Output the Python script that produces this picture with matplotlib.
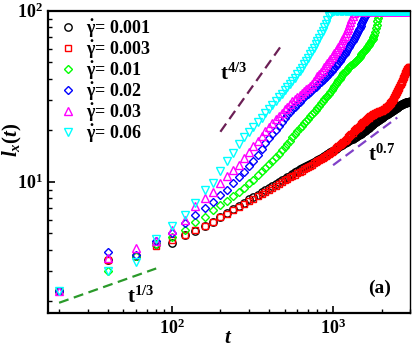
import matplotlib
matplotlib.use("Agg")
import matplotlib.pyplot as plt
import numpy as np

plt.rcParams['font.family'] = ['Liberation Serif', 'DejaVu Serif']
plt.rcParams['font.weight'] = 'bold'
plt.rcParams['mathtext.fontset'] = 'custom'
plt.rcParams['mathtext.rm'] = 'Liberation Serif:bold'
plt.rcParams['mathtext.it'] = 'Liberation Serif:italic:bold'
plt.rcParams['mathtext.bf'] = 'Liberation Serif:bold'

t = list(range(20, 3001, 20))

black = [2.3, 3.5, 3.7, 4.3, 4.4, 4.85, 5.15, 5.5, 5.85, 6.2,
         6.55, 6.9, 7.2, 7.55, 7.9, 8.15, 8.4, 8.7, 8.95, 9.2,
         9.45, 9.7, 9.95, 10.2, 10.4, 10.65, 10.85, 11.1, 11.35, 11.6,
         11.8, 12.0, 12.15, 12.35, 12.5, 12.7, 12.85, 13.05, 13.2, 13.4,
         13.6, 13.8, 13.95, 14.15, 14.35, 14.5, 14.7, 14.85, 15.05, 15.2,
         15.4, 15.6, 15.75, 15.95, 16.1, 16.3, 16.45, 16.65, 16.8, 17.0,
         17.15, 17.3, 17.45, 17.6, 17.75, 17.9, 18.05, 18.2, 18.35, 18.5,
         18.65, 18.8, 18.9, 19.05, 19.2, 19.35, 19.5, 19.7, 19.9, 20.1,
         20.3, 20.5, 20.7, 20.9, 21.1, 21.3, 21.5, 21.7, 21.9, 22.1,
         22.3, 22.5, 22.65, 22.8, 22.95, 23.1, 23.25, 23.4, 23.55, 23.7,
         23.85, 24.0, 24.15, 24.3, 24.45, 24.6, 24.75, 24.9, 25.05, 25.2,
         25.35, 25.5, 25.6, 25.75, 25.9, 26.05, 26.2, 26.3, 26.45, 26.6,
         26.75, 26.9, 27.0, 27.15, 27.3, 27.4, 27.55, 27.7, 27.8, 27.95,
         28.05, 28.15, 28.3, 28.4, 28.5, 28.6, 28.7, 28.8, 28.9, 29.0,
         29.05, 29.1, 29.15, 29.2, 29.25, 29.3, 29.35, 29.4, 29.45, 29.5]

red = [2.3, 3.5, 3.7, 4.2, 4.56, 4.88, 5.2, 5.5, 5.84, 6.19,
       6.5, 6.8, 7.1, 7.4, 7.7, 7.95, 8.2, 8.45, 8.7, 8.95,
       9.2, 9.45, 9.7, 9.95, 10.2, 10.4, 10.6, 10.8, 11.0, 11.2,
       11.4, 11.6, 11.8, 12.0, 12.2, 12.4, 12.6, 12.8, 13.0, 13.2,
       13.4, 13.6, 13.8, 14.0, 14.2, 14.4, 14.6, 14.8, 15.0, 15.2,
       15.4, 15.65, 15.9, 16.15, 16.4, 16.65, 16.9, 17.15, 17.4, 17.65,
       17.9, 18.2, 18.5, 18.8, 19.1, 19.4, 19.7, 20.0, 20.25, 20.5,
       20.75, 21.0, 21.25, 21.5, 21.75, 22.0, 22.25, 22.5, 22.75, 23.0,
       23.25, 23.5, 23.7, 23.9, 24.1, 24.3, 24.5, 24.65, 24.8, 24.95,
       25.1, 25.25, 25.4, 25.5, 25.6, 25.7, 25.8, 25.9, 26.0, 26.1,
       26.2, 26.35, 26.5, 26.65, 26.8, 27.0, 27.2, 27.4, 27.6, 27.8,
       28.1, 28.4, 28.7, 29.0, 29.4, 29.8, 30.2, 30.6, 31.0, 31.5,
       32.0, 32.5, 33.0, 33.5, 34.0, 34.5, 35.0, 35.5, 36.0, 36.6,
       37.2, 37.8, 38.4, 39.0, 39.7, 40.4, 41.1, 41.8, 42.5, 43.2,
       43.8, 44.4, 44.9, 45.4, 45.8, 46.2, 46.5, 46.8, 47.0, 47.2]

green = [2.3, 3.0, 3.7, 4.3, 4.73, 5.2, 5.8, 6.2, 6.8, 7.3,
         7.75, 8.2, 8.7, 9.2, 9.8, 10.3, 10.9, 11.5, 12.1, 12.7,
         13.3, 13.9, 14.6, 15.3, 16.0, 16.7, 17.4, 18.2, 19.0, 19.8,
         20.6, 21.3, 22.0, 22.7, 23.4, 24.1, 24.8, 25.5, 26.3, 27.1,
         27.9, 28.7, 29.5, 30.3, 31.1, 31.9, 32.8, 33.7, 34.6, 35.5,
         36.4, 37.3, 38.2, 39.1, 40.0, 41.0, 42.0, 43.0, 43.8, 44.6,
         45.3, 46.0, 46.7, 47.4, 48.1, 48.8, 49.5, 50.2, 50.9, 51.6,
         52.4, 53.2, 54.0, 54.8, 55.6, 56.4, 57.3, 58.2, 59.1, 60.0,
         61.0, 62.0, 63.0, 64.0, 65.0, 66.2, 67.4, 68.7, 70.0, 72.0,
         75.0, 79.0, 83.0, 87.0, 91.0, 95.0, 98.5, 100, 100, 100,
         100, 100, 100, 100, 100, 100, 100, 100, 100, 100,
         100, 100, 100, 100, 100, 100, 100, 100, 100, 100,
         100, 100, 100, 100, 100, 100, 100, 100, 100, 100,
         100, 100, 100, 100, 100, 100, 100, 100, 100, 100,
         100, 100, 100, 100, 100, 100, 100, 100, 100, 100]

blue = [2.3, 3.9, 3.75, 4.5, 5.0, 5.7, 6.4, 7.0, 7.6, 8.35,
        9.0, 9.8, 10.6, 11.4, 12.3, 13.3, 14.4, 15.6, 16.8, 18.0,
        19.1, 20.2, 21.3, 22.4, 23.5, 24.5, 25.5, 26.5, 27.5, 28.5,
        29.4, 30.3, 31.2, 32.0, 32.8, 33.6, 34.4, 35.2, 36.0, 36.8,
        37.6, 38.4, 39.2, 40.0, 40.9, 41.8, 42.7, 43.6, 44.5, 45.4,
        46.5, 47.6, 48.7, 49.8, 51.0, 52.2, 53.5, 54.8, 56.1, 57.4,
        58.8, 60.2, 61.7, 63.2, 64.8, 66.4, 68.1, 69.9, 71.8, 73.8,
        75.8, 77.8, 79.8, 81.9, 84.0, 86.2, 88.4, 90.6, 92.8, 95.0,
        97.5, 100, 100, 100, 100, 100, 100, 100, 100, 100,
        100, 100, 100, 100, 100, 100, 100, 100, 100, 100,
        100, 100, 100, 100, 100, 100, 100, 100, 100, 100,
        100, 100, 100, 100, 100, 100, 100, 100, 100, 100,
        100, 100, 100, 100, 100, 100, 100, 100, 100, 100,
        100, 100, 100, 100, 100, 100, 100, 100, 100, 100,
        100, 100, 100, 100, 100, 100, 100, 100, 100, 100]

magenta = [2.3, 3.6, 4.1, 4.5, 5.25, 6.0, 7.2, 8.0, 8.75, 9.8,
           10.8, 11.7, 12.6, 13.8, 15.0, 16.2, 17.4, 18.6, 19.8, 21.0,
           22.1, 23.2, 24.3, 25.4, 26.5, 27.5, 28.5, 29.5, 30.5, 31.5,
           32.3, 33.1, 33.9, 34.7, 35.5, 36.3, 37.5, 38.8, 40.1, 41.4,
           42.7, 44.0, 45.3, 46.6, 47.9, 49.3, 50.7, 52.1, 53.5, 55.0,
           56.6, 58.2, 59.8, 61.5, 63.2, 65.0, 67.0, 69.2, 71.5, 74.0,
           76.8, 79.8, 83.0, 86.5, 90.0, 93.5, 97.0, 100, 100, 100,
           100, 100, 100, 100, 100, 100, 100, 100, 100, 100,
           100, 100, 100, 100, 100, 100, 100, 100, 100, 100,
           100, 100, 100, 100, 100, 100, 100, 100, 100, 100,
           100, 100, 100, 100, 100, 100, 100, 100, 100, 100,
           100, 100, 100, 100, 100, 100, 100, 100, 100, 100,
           100, 100, 100, 100, 100, 100, 100, 100, 100, 100,
           100, 100, 100, 100, 100, 100, 100, 100, 100, 100,
           100, 100, 100, 100, 100, 100, 100, 100, 100, 100]

cyan = [2.3, 3.0, 3.4, 4.6, 5.5, 6.4, 7.5, 8.9, 9.8, 11.6,
        13.2, 14.8, 16.6, 18.3, 19.5, 20.9, 22.3, 23.7, 25.1, 26.6,
        28.1, 29.6, 31.2, 32.8, 34.4, 35.9, 37.4, 38.9, 40.6, 42.4,
        44.4, 46.4, 48.5, 50.7, 53.0, 55.5, 58.0, 60.7, 63.5, 66.3,
        69.5, 73.0, 76.5, 80.0, 84.0, 88.5, 93.0, 96.0, 98.5, 100,
        100, 100, 100, 100, 100, 100, 100, 100, 100, 100,
        100, 100, 100, 100, 100, 100, 100, 100, 100, 100,
        100, 100, 100, 100, 100, 100, 100, 100, 100, 100,
        100, 100, 100, 100, 100, 100, 100, 100, 100, 100,
        100, 100, 100, 100, 100, 100, 100, 100, 100, 100,
        100, 100, 100, 100, 100, 100, 100, 100, 100, 100,
        100, 100, 100, 100, 100, 100, 100, 100, 100, 100,
        100, 100, 100, 100, 100, 100, 100, 100, 100, 100,
        100, 100, 100, 100, 100, 100, 100, 100, 100, 100,
        100, 100, 100, 100, 100, 100, 100, 100, 100, 100]

labels = ['0.001', '0.003', '0.01', '0.02', '0.03', '0.06']
series = [black, red, green, blue, magenta, cyan]
colors = ['black', 'red', '#00ff00', 'blue', 'magenta', 'cyan']
markers = ['o', 's', 'D', 'D', '^', 'v']
msizes = [5.3, 4.6, 4.4, 4.4, 5.6, 5.6]

# guide power laws: (t_start, t_end, prefactor at t_start, exponent)
guide_t13 = (20, 80, 1.96, 1/3)
guide_t43 = (200, 490, 19.6, 4/3)
guide_t07 = (1000, 2500, 12.5, 0.7)

fig = plt.figure(figsize=(4.15, 3.47), dpi=100)
ax = fig.add_axes([0.115, 0.097, 0.873, 0.872])

for y, lab, c, m, ms in zip(series, labels, colors, markers, msizes):
    ax.plot(t, y, linestyle='none', marker=m, ms=ms, mfc='none', mec=c,
            mew=1.0, label=r'$\mathrm{\dot{\gamma}}$= ' + lab)

def guide(g, color):
    t0, t1, a, p = g
    tt = np.array([t0, t1], dtype=float)
    ax.plot(tt, a * (tt / t0) ** p, color=color, lw=1.6,
            linestyle=(0, (4.5, 2.5)))

guide(guide_t13, '#2a9a2a')
guide(guide_t43, '#6b1f55')
guide(guide_t07, '#8040c8')

ax.set_xscale('log')
ax.set_yscale('log')
ax.set_xlim(17, 3000)
ax.set_ylim(1.7, 100)

ax.text(200, 39.5, r'$\mathrm{t}^{\mathrm{4/3}}$', fontsize=15, ha='left', va='baseline')
ax.text(1640, 13.3, r'$\mathrm{t}^{\mathrm{0.7}}$', fontsize=15, ha='left', va='baseline')
ax.text(53, 1.95, r'$\mathrm{t}^{\mathrm{1/3}}$', fontsize=15, ha='left', va='baseline')
ax.text(0.884, 0.067, '(a)', fontsize=14, fontweight='bold', transform=ax.transAxes,
        ha='left', va='baseline')

ax.set_xlabel(r'$t$', fontsize=15)
ax.set_ylabel(r'$l_x(t)$', fontsize=15)
ax.xaxis.set_label_coords(0.498, -0.052)
ax.yaxis.set_label_coords(-0.065, 0.573)

ax.tick_params(which='both', direction='in', top=False, right=False, labelsize=13)
ax.tick_params(which='major', length=5, width=1.2)
ax.tick_params(which='minor', length=3, width=1.0)
for s in ['left', 'bottom', 'top']:
    ax.spines[s].set_linewidth(1.6)
ax.spines['right'].set_linewidth(1.0)

leg = ax.legend(loc='upper left', bbox_to_anchor=(0.03, 0.978), frameon=False,
                fontsize=13, handlelength=1.0, handletextpad=0.5,
                labelspacing=-0.06, borderpad=0, borderaxespad=0)

fig.savefig('out.png', dpi=100)
